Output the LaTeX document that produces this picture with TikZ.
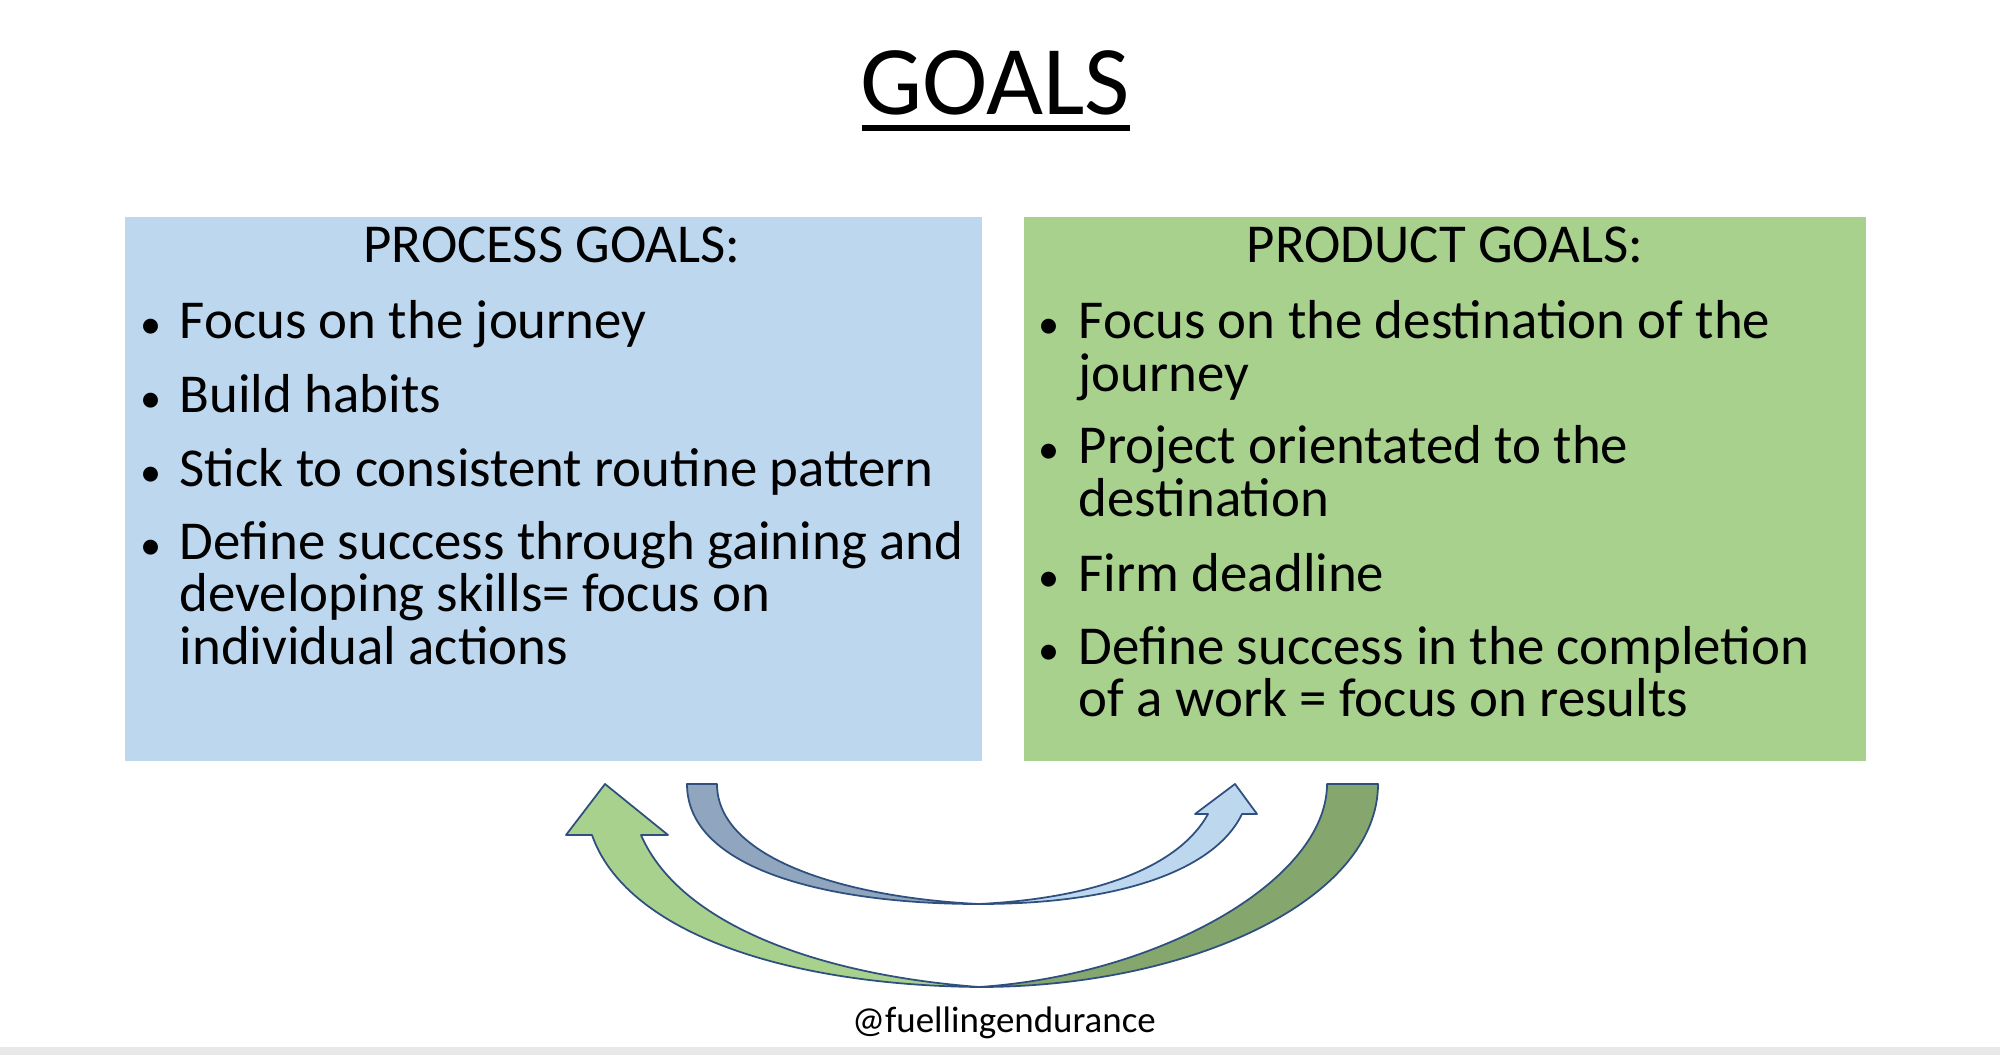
\documentclass[tikz,border=0pt]{standalone}
\usepackage{fontspec}
\setmainfont{Carlito}
\begin{document}
\begin{tikzpicture}[x=0.01cm,y=-0.01cm,
  txt/.style={anchor=mid west,inner sep=0pt,font=\fontsize{15.6}{16}\selectfont},
  bul/.style={anchor=mid,inner sep=0pt,font=\fontsize{12}{12}\selectfont},
  hdr/.style={anchor=mid,inner sep=0pt,font=\fontsize{15.6}{16}\selectfont},
  arr/.style={draw=arrowline,line width=0.5pt,line join=round}]
\definecolor{blueBox}{HTML}{BDD7EE}
\definecolor{greenBox}{HTML}{A9D18E}
\definecolor{blueDark}{HTML}{8FA6BE}
\definecolor{greenDark}{HTML}{85A66C}
\definecolor{arrowline}{HTML}{2F4F7F}
\useasboundingbox (0,0) rectangle (2000,1055);
\fill[gray!18] (0,1047) rectangle (2000,1055);
\node[inner sep=0pt,font=\fontsize{28}{30}\selectfont] (title) at (995,83) {GOALS};
\draw[line width=1.6pt] (862,128) -- (1130,128);
\fill[blueBox] (125,217) rectangle (982,761);
\fill[greenBox] (1024,217) rectangle (1866,761);
\node[hdr] (h1) at (552,254) {PROCESS GOALS:};
\node[hdr] (h2) at (1445,254) {PRODUCT GOALS:};
\foreach \y/\t [count=\i] in {330/Focus on the journey,404/Build habits,478/Stick to consistent routine pattern,551/Define success through gaining and}
  {\node[bul] (lb\i) at (151,\y) {\textbullet}; \node[txt] (lt\i) at (179,\y) {\t};}
\node[txt] (lt5) at (179,603) {developing skills= focus on};
\node[txt] (lt6) at (179,656) {individual actions};
\foreach \y/\t [count=\i] in {330/Focus on the destination of the,455/Project orientated to the,583/Firm deadline,656/Define success in the completion}
  {\node[bul] (rb\i) at (1049,\y) {\textbullet}; \node[txt] (rt\i) at (1078,\y) {\t};}
\node[txt] (rt5) at (1078,383) {journey};
\node[txt] (rt6) at (1078,508) {destination};
\node[txt] (rt7) at (1078,708) {of a work = focus on results};
% blue arrow
\filldraw[arr,fill=blueDark] (687,784) .. controls (687,870) and (830,904) .. (979,904)
  .. controls (850,898) and (717,860) .. (717,784) -- cycle;
\filldraw[arr,fill=blueBox] (979,904) .. controls (1120,904) and (1215,870) .. (1242,814) -- (1257,814) -- (1235,784) -- (1195,814) -- (1208,814) .. controls (1180,865) and (1100,898) .. (979,904) -- cycle;
% green arrow
\filldraw[arr,fill=greenBox] (979,987) .. controls (780,985) and (625,930) .. (592,835) -- (566,835) -- (605,784) -- (668,835) -- (641,835) .. controls (680,925) and (820,975) .. (979,987) -- cycle;
\filldraw[arr,fill=greenDark] (1378,784) .. controls (1378,900) and (1190,987) .. (979,987)
  .. controls (1160,975) and (1327,880) .. (1327,784) -- cycle;
\node[inner sep=0pt,font=\fontsize{10.5}{12}\selectfont] (wm) at (1004,1023) {@fuellingendurance};
\end{tikzpicture}
\end{document}
